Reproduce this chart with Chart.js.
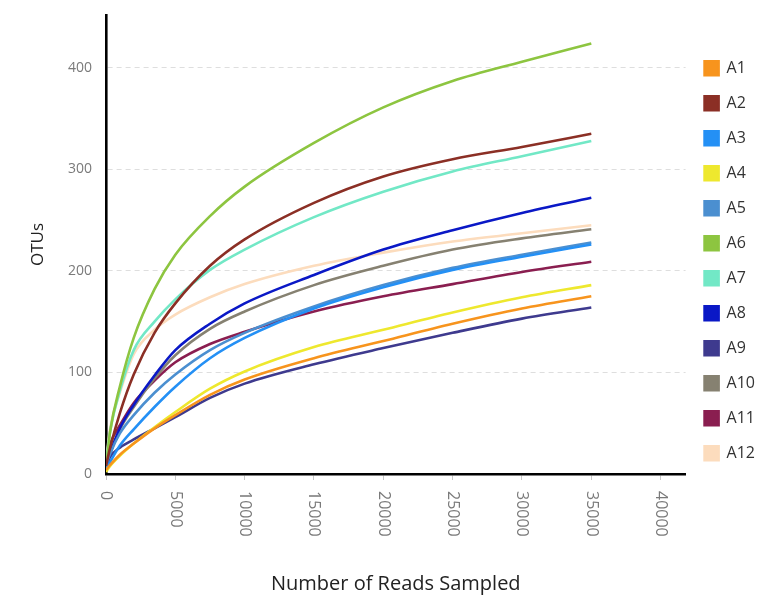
<!DOCTYPE html>
<html>
<head>
<meta charset="utf-8">
<script src="https://cdn.jsdelivr.net/npm/chart.js@4.4.1/dist/chart.umd.min.js"></script>
<style>
html,body{margin:0;padding:0;background:#fff;}
#wrap{width:765px;height:596px;}
</style>
</head>
<body>
<div id="wrap"><canvas id="c" width="765" height="596"></canvas></div>
<script>
// Number of reads sampled (x values)
const reads = [0, 300, 1000, 2000, 3500, 5000, 7500, 10000, 15000, 20000, 25000, 30000, 35000];

const sampleNames = ['A1','A2','A3','A4','A5','A6','A7','A8','A9','A10','A11','A12'];

// OTUs per sample at each read depth
const A1  = [4, 9, 19, 30, 45, 58, 78, 93, 114, 131, 148, 163, 175];
const A2  = [8, 26, 60, 98, 139, 168, 205, 231, 267, 293, 310, 322, 335];
const A3  = [5, 12, 28, 44, 66, 86, 114, 134, 163, 184, 201, 214, 226];
const A4  = [2, 8, 18, 30, 46, 61, 84, 101, 125, 142, 159, 174, 186];
const A5  = [8, 20, 40, 58, 80, 98, 122, 139, 165, 186, 203, 216, 228];
const A6  = [5, 42, 86, 134, 182, 216, 254, 283, 326, 361, 387, 406, 424];
const A7  = [10, 42, 82, 122, 150, 172, 201, 221, 253, 278, 298, 313, 328];
const A8  = [5, 20, 45, 68, 97, 122, 148, 168, 196, 221, 240, 257, 272];
const A9  = [8, 17, 26, 34, 45, 56, 75, 89, 108, 124, 139, 153, 164];
const A10 = [6, 20, 44, 66, 94, 117, 143, 160, 186, 205, 221, 232, 241];
const A11 = [15, 30, 48, 70, 92, 110, 128, 140, 160, 175, 187, 199, 209];
const A12 = [12, 45, 80, 118, 142, 157, 174, 187, 205, 218, 229, 237, 245];

const seriesValues = [A1, A2, A3, A4, A5, A6, A7, A8, A9, A10, A11, A12];
const seriesColors = ['#f7941d','#8b2f25','#2490f5','#eee82e','#4b8fd0','#8dc540',
                      '#72e8c6','#0a18c6','#3e3a8e','#868171','#8a1e50','#fcdcbd'];

const xTickValues = [0, 5000, 10000, 15000, 20000, 25000, 30000, 35000, 40000];
const yTickValues = [0, 100, 200, 300, 400];

const FONT = '"Open Sans", "Noto Sans", sans-serif';

const datasets = sampleNames.map((name, i) => ({
  label: name,
  data: reads.map((r, j) => ({x: r, y: seriesValues[i][j]})),
  borderColor: seriesColors[i],
  backgroundColor: seriesColors[i],
  borderWidth: 2.6,
  pointRadius: 0,
  fill: false,
  cubicInterpolationMode: 'monotone'
}));

const xLabelPlugin = {
  id: 'xLabels',
  afterDraw(chart) {
    const xs = chart.scales.x;
    const ctx = chart.ctx;
    ctx.save();
    ctx.font = '16px ' + FONT;
    ctx.fillStyle = '#7a7a7a';
    ctx.textAlign = 'left';
    ctx.textBaseline = 'middle';
    xs.ticks.forEach(t => {
      const px = xs.getPixelForValue(t.value);
      ctx.save();
      ctx.translate(px, chart.chartArea.bottom + 17);
      ctx.rotate(Math.PI / 2);
      ctx.fillText(String(t.value), 0, 0);
      ctx.restore();
    });
    ctx.restore();
  }
};

new Chart(document.getElementById('c'), {
  type: 'line',
  data: { datasets },
  options: {
    responsive: false,
    animation: false,
    devicePixelRatio: 1,
    layout: { padding: { top: 15, right: 0, bottom: 0, left: 0 } },
    plugins: {
      tooltip: { enabled: false },
      legend: {
        position: 'right',
        align: 'start',
        title: { display: true, text: ' ', padding: { top: 7, bottom: 0 }, font: { size: 16, family: FONT } },
        labels: {
          boxWidth: 14, boxHeight: 14, padding: 19,
          color: '#333', font: { size: 16, family: FONT }
        }
      }
    },
    scales: {
      x: {
        type: 'linear',
        min: 0, max: 41800,
        afterBuildTicks: s => { s.ticks = xTickValues.map(v => ({ value: v })); },
        afterFit: s => { s.height = 122; s.paddingLeft = 0; s.paddingRight = 0; },
        ticks: { color: 'rgba(0,0,0,0)', minRotation: 90, maxRotation: 90, autoSkip: false, font: { size: 16, family: FONT } },
        grid: { display: true, drawOnChartArea: false, drawTicks: true, tickLength: 6, color: '#c8c8c8' },
        border: { display: true, color: '#000', width: 2.6 },
        title: { display: true, text: 'Number of Reads Sampled', color: '#222', font: { size: 20, family: FONT }, padding: { top: 0, bottom: 0 } }
      },
      y: {
        type: 'linear',
        min: 0, max: 452,
        afterBuildTicks: s => { s.ticks = yTickValues.map(v => ({ value: v })); },
        afterFit: s => { s.width = 106; s.paddingTop = 0; s.paddingBottom = 0; },
        ticks: { color: '#7a7a7a', padding: 14, font: { size: 14, family: FONT } },
        grid: { display: true, drawTicks: false, color: '#dedede', lineWidth: 1 },
        border: { display: true, color: '#000', width: 2.6, dash: [5, 4] },
        title: { display: true, text: 'OTUs', color: '#222', font: { size: 17, family: FONT }, padding: { top: 28, bottom: 0 } }
      }
    }
  },
  plugins: [xLabelPlugin]
});
</script>
</body>
</html>
